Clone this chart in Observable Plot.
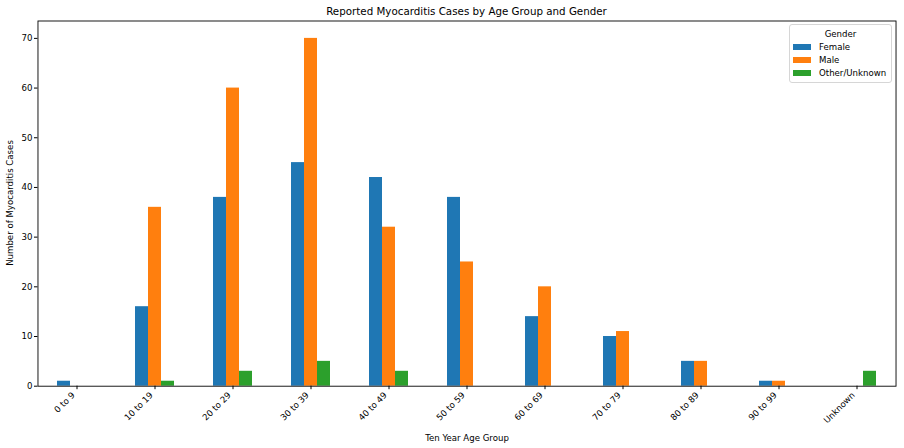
<!DOCTYPE html>
<html><head><meta charset="utf-8">
<script src="https://cdn.jsdelivr.net/npm/d3@7"></script>
<script src="https://cdn.jsdelivr.net/npm/@observablehq/plot@0.6"></script>
<style>
body{margin:0;background:#fff;font-family:"DejaVu Sans",sans-serif;}
#wrap{position:relative;width:904px;height:448px;overflow:hidden;}
#title{position:absolute;left:37px;width:859px;top:5px;text-align:center;font-size:10.3px;line-height:12px;color:#000;}
#chart{position:absolute;top:18px;left:0;}
#legend{position:absolute;left:789px;top:24px;width:103px;height:59px;box-sizing:border-box;border:1px solid #d6d6d6;border-radius:3px;font-size:8.6px;background:rgba(255,255,255,0.85);color:#000;}
#legend .t{position:absolute;left:0;width:100%;top:4px;text-align:center;}
#legend .e{position:absolute;left:3px;height:10px;line-height:10px;white-space:nowrap;}
#legend .s{display:inline-block;width:18px;height:6px;vertical-align:middle;margin-right:8px;position:relative;top:-1px;}
</style></head>
<body><div id="wrap"><div id="title"></div><div id="chart"></div><div id="legend"></div></div>
<script>
const title = "Reported Myocarditis Cases by Age Group and Gender";
const xLabel = "Ten Year Age Group";
const yLabel = "Number of Myocarditis Cases";
const legendTitle = "Gender";
const ages = ["0 to 9","10 to 19","20 to 29","30 to 39","40 to 49","50 to 59","60 to 69","70 to 79","80 to 89","90 to 99","Unknown"];
const genders = ["Female","Male","Other/Unknown"];
const colors = ["#1f77b4","#ff7f0e","#2ca02c"];
const female = [1,16,38,45,42,38,14,10,5,1,0];
const male = [0,36,60,70,32,25,20,11,5,1,0];
const other = [0,1,3,5,3,0,0,0,0,0,3];
const yTicks = [0,10,20,30,40,50,60,70];

const series = [female, male, other];
const rows = [];
ages.forEach((a, i) => genders.forEach((g, j) => rows.push({age: a, gender: g, value: series[j][i]})));

document.getElementById("title").textContent = title;

const W = 904, mL = 37, mR = 8, padOuter = 0.25;
const step = (W - mL - mR) / ages.length;
const shift = padOuter * step; // distance from first/last facet edge to frame edge
const FS = 8.6;

const chart = Plot.plot({
  width: W, height: 430,
  marginLeft: mL, marginRight: mR, marginTop: 2.5, marginBottom: 62.3,
  style: {fontFamily: "DejaVu Sans", fontSize: FS + "px", color: "#000", background: "#fff", overflow: "visible"},
  fx: {domain: ages, paddingInner: 0.5, paddingOuter: padOuter},
  x: {domain: genders, padding: 0, axis: null},
  y: {domain: [0, 73.5]},
  color: {domain: genders, range: colors},
  marks: [
    Plot.barY(rows, {fx: "age", x: "gender", y: "value", fill: "gender", inset: 0}),
    // tick marks only
    Plot.axisFx({anchor: "bottom", tickSize: 3.5, tickFormat: () => "", label: xLabel, labelAnchor: "center", labelOffset: 55, fontSize: FS}),
    // rotated tick labels, right edge aligned under the tick like matplotlib
    Plot.axisFx({anchor: "bottom", tickSize: 0, tickRotate: -45, tickPadding: 5.5, dx: -3.5, dy: 2, label: null, fontSize: FS}),
    Plot.axisY({ticks: yTicks, tickSize: 3.5, tickPadding: 2, dx: -shift, label: null, fontSize: FS}),
    Plot.frame({facet: "super", stroke: "#000", strokeWidth: 0.9, insetLeft: -shift, insetRight: -shift})
  ]
});
document.getElementById("chart").appendChild(chart);

// y-axis title (rotated), positioned beside the chart
const yl = document.createElement("div");
yl.textContent = yLabel;
Object.assign(yl.style, {position: "absolute", left: "10px", top: (18 + 2.5 + (430 - 2.5 - 62.3) / 2) + "px",
  transform: "translate(-50%,-50%) rotate(-90deg)", fontSize: FS + "px", whiteSpace: "nowrap", color: "#000"});
document.getElementById("wrap").appendChild(yl);

const lg = document.getElementById("legend");
const t = document.createElement("div"); t.className = "t"; t.textContent = legendTitle; lg.appendChild(t);
genders.forEach((g, i) => {
  const e = document.createElement("div"); e.className = "e"; e.style.top = (17 + i * 13) + "px";
  const s = document.createElement("span"); s.className = "s"; s.style.background = colors[i];
  e.appendChild(s); e.appendChild(document.createTextNode(g)); lg.appendChild(e);
});
</script></body></html>
